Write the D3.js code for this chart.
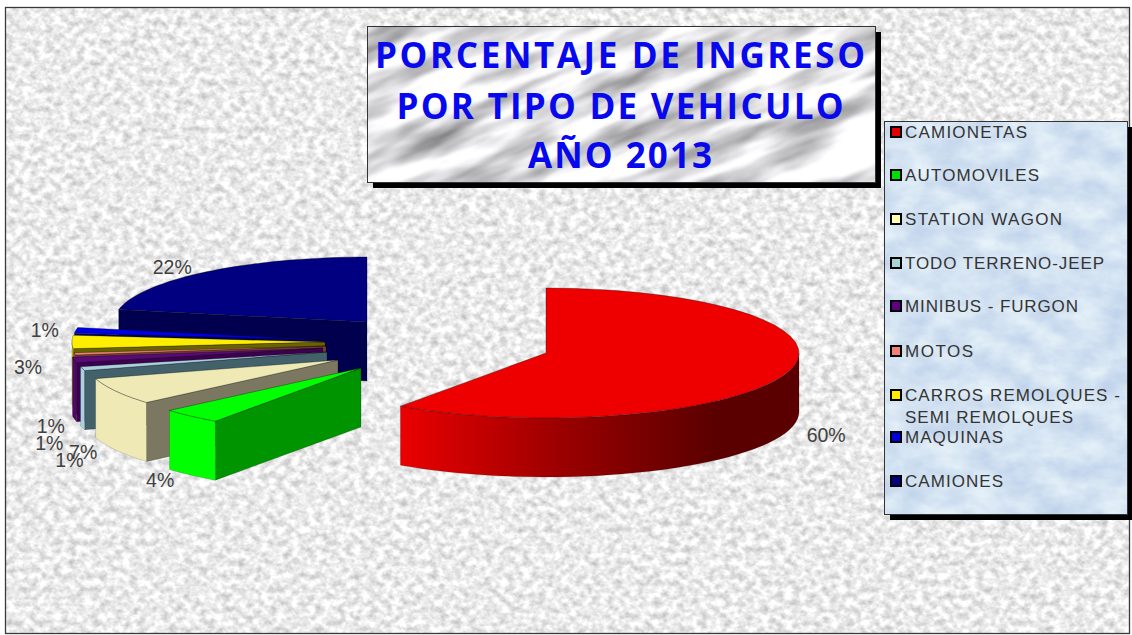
<!DOCTYPE html>
<html><head><meta charset="utf-8">
<script src="https://cdnjs.cloudflare.com/ajax/libs/d3/7.8.5/d3.min.js"></script>
<style>html,body{margin:0;padding:0;background:#fff}svg{display:block}</style>
</head><body><svg id="c" width="1132" height="635"></svg>
<script>
// ---- data ----
const titleLines = ["PORCENTAJE DE INGRESO", "POR TIPO DE VEHICULO", "AÑO 2013"];
const categories = ["CAMIONETAS","AUTOMOVILES","STATION WAGON","TODO TERRENO-JEEP","MINIBUS - FURGON","MOTOS","CARROS REMOLQUES - SEMI REMOLQUES","MAQUINAS","CAMIONES"];
const values = [59.7, 3.9, 6.7, 1, 1.4, 0.6, 3.3, 1.4, 21.9];
const legendColors = ["#e00000","#00e000","#ffffb0","#a8d4d4","#600080","#f08078","#ffee00","#0000e0","#000080"];

// ---- styles / layout ----
const topColors  = ["#ee0000","#00ff00","#efe9b5","#a9d3dc","#5a0a78","#f08070","#ffee00","#0000e6","#000080"];
const faceColors = ["#600000","#009400","#7b7761","#43616b","#3c0050","#7a4038","#6a6400","#000062","#00004f"];
const rimColors  = ["url(#redRim)","#00ff00","#efe9b5","#a9d3dc","#4a0a66","#c06a5c","#c8bb00","#0000b0","#000060"];
const apexX = [546,361,338,327,323,326,325,326,367];
const apexY = [353,368,360,352,348,346,342,340,322];
const labelDX = [39,-31,-33,-13,-25,-24,-44,-31,-34];
const labelDY = [62,64,60.5,91.5,83.5,72,25,0,-4.4];
const legendLen = [122,134,157,199,173,68,215,98,98];
const rx = 253, ry = 65, depth = 59;

const svg = d3.select("#c");
const defs = svg.append("defs");

function texture(id, freq, octaves, seed, matrix, blur) {
  const f = defs.append("filter").attr("id", id).attr("x",0).attr("y",0).attr("width","100%").attr("height","100%")
    .attr("color-interpolation-filters","sRGB");
  f.append("feTurbulence").attr("type","fractalNoise").attr("baseFrequency",freq).attr("numOctaves",octaves).attr("seed",seed);
  f.append("feColorMatrix").attr("values",matrix);
  if (blur) f.append("feGaussianBlur").attr("stdDeviation",blur);
}
texture("bgTex","0.13 0.15",3,7,"0.42 0 0 0 0.71  0.42 0 0 0 0.71  0.42 0 0 0 0.71  0 0 0 0 1",0.7);
texture("marble","0.008 0.04",4,11,"1.15 0 0 0 0.31  1.15 0 0 0 0.31  1.15 0 0 0 0.32  0 0 0 0 1",0.8);
texture("sky","0.03 0.05",4,3,"0.22 0 0 0 0.72  0.18 0 0 0 0.80  0.08 0 0 0 0.91  0 0 0 0 1",0.6);

// gradient coordinates are relative to the red slice's apex
const grad = defs.append("linearGradient").attr("id","redRim").attr("gradientUnits","userSpaceOnUse")
  .attr("x1",-145).attr("x2",170).attr("y1",0).attr("y2",0);
grad.append("stop").attr("offset",0).attr("stop-color","#ea0000");
grad.append("stop").attr("offset",0.5).attr("stop-color","#9c0000");
grad.append("stop").attr("offset",1).attr("stop-color","#5a0000");

// frame and background
svg.append("rect").attr("width",1132).attr("height",635).attr("fill","#fff");
svg.append("rect").attr("x",5.5).attr("y",7.5).attr("width",1124).attr("height",626).attr("filter","url(#bgTex)");
svg.append("rect").attr("x",5.5).attr("y",7.5).attr("width",1124).attr("height",626)
  .attr("fill","none").attr("stroke","#3a3a3a").attr("stroke-width",1.3);

// pie geometry
const pie = d3.pie().sort(null).startAngle(0).endAngle(2*Math.PI);
const arcs = pie(values);
const px = d3.scaleLinear().domain([-1,1]).range([-rx,rx]);
const py = d3.scaleLinear().domain([-1,1]).range([ry,-ry]);
const rim = a => [px(Math.sin(a)), py(Math.cos(a))];
const sample = (a0,a1) => d3.range(0,41).map(i => a0 + (a1-a0)*i/40);
const halfStart = Math.PI/2, halfEnd = 3*Math.PI/2;
const line = d3.line();

// painter's order: back to front
const order = [8,7,6,5,4,3,2,1,0];
const pieG = svg.append("g");
order.forEach(i => {
  const d = arcs[i], ax = apexX[i], ay = apexY[i];
  const g = pieG.append("g").attr("transform",`translate(${ax},${ay})`);
  const top = [[0,0], ...sample(d.startAngle,d.endAngle).map(rim)];
  if (d.startAngle > Math.PI) {
    const p = rim(d.startAngle);
    g.append("path").attr("d",line([[0,0],p,[p[0],p[1]+depth],[0,depth]])+"Z")
      .attr("fill",faceColors[i]).attr("stroke","#000").attr("stroke-opacity",.35).attr("stroke-width",.6);
  }
  const a0 = Math.max(d.startAngle,halfStart), a1 = Math.min(d.endAngle,halfEnd);
  if (a1 > a0) {
    const upper = sample(a0,a1).map(rim);
    const lower = upper.slice().reverse().map(p => [p[0],p[1]+depth]);
    g.append("path").attr("d",line([...upper,...lower])+"Z").attr("fill",rimColors[i])
      .attr("stroke","#000").attr("stroke-opacity",.25).attr("stroke-width",.6);
  }
  g.append("path").attr("d",line(top)+"Z").attr("fill",topColors[i])
    .attr("stroke","#000").attr("stroke-opacity",.45).attr("stroke-width",.7);
});

// percentage labels
const labelG = svg.append("g").attr("font-family","'Liberation Sans',Arial,sans-serif")
  .attr("font-size",19.5).attr("fill","#404040").attr("text-anchor","middle").attr("dominant-baseline","central");
arcs.forEach((d,i) => {
  const mid = (d.startAngle+d.endAngle)/2, p = rim(mid);
  labelG.append("text").attr("x",apexX[i]+p[0]+labelDX[i]).attr("y",apexY[i]+p[1]+labelDY[i])
    .text(Math.round(d.value)+"%");
});

// title box
svg.append("rect").attr("x",373).attr("y",32).attr("width",508).attr("height",156).attr("fill","#000");
defs.append("clipPath").attr("id","titleClip").append("rect").attr("x",367.5).attr("y",26.5).attr("width",508).attr("height",156);
svg.append("g").attr("clip-path","url(#titleClip)").append("rect")
  .attr("x",280).attr("y",-160).attr("width",700).attr("height",520)
  .attr("transform","rotate(-22 620 104)").attr("filter","url(#marble)");
svg.append("rect").attr("x",367.5).attr("y",26.5).attr("width",508).attr("height",156).attr("fill","none").attr("stroke","#333");
const titleBase = [68,119,168], titleLen = [490,447,184];
svg.append("g").attr("font-family","'Open Sans',sans-serif").attr("font-weight",700).attr("font-size",35)
  .attr("fill","#0808ee").attr("text-anchor","middle")
  .selectAll("text").data(titleLines).join("text")
  .attr("x",620).attr("y",(d,i)=>titleBase[i]).attr("textLength",(d,i)=>titleLen[i]).attr("lengthAdjust","spacing").text(d=>d);

// legend box
svg.append("rect").attr("x",890).attr("y",127).attr("width",243).attr("height",393).attr("fill","#000");
svg.append("rect").attr("x",884.5).attr("y",121.5).attr("width",243).attr("height",393).attr("filter","url(#sky)");
svg.append("rect").attr("x",884.5).attr("y",121.5).attr("width",243).attr("height",393).attr("fill","none").attr("stroke","#333");
const legendY = [132,175,219,263,306,351,395,437,481];
const legendG = svg.append("g").attr("font-family","'Liberation Sans',Arial,sans-serif")
  .attr("font-size",17).attr("fill","#333");
categories.forEach((c,i) => {
  const y = legendY[i];
  legendG.append("rect").attr("x",891).attr("y",y-5).attr("width",10).attr("height",10)
    .attr("fill",legendColors[i]).attr("stroke","#000").attr("stroke-width",2);
  const parts = c.includes(" - SEMI") ? ["CARROS REMOLQUES -","SEMI REMOLQUES"] : [c];
  parts.forEach((t,k) => legendG.append("text").attr("x",905).attr("y",y+6+k*22)
    .attr("textLength",k ? 168 : legendLen[i]).attr("lengthAdjust","spacing").text(t));
});
</script></body></html>
